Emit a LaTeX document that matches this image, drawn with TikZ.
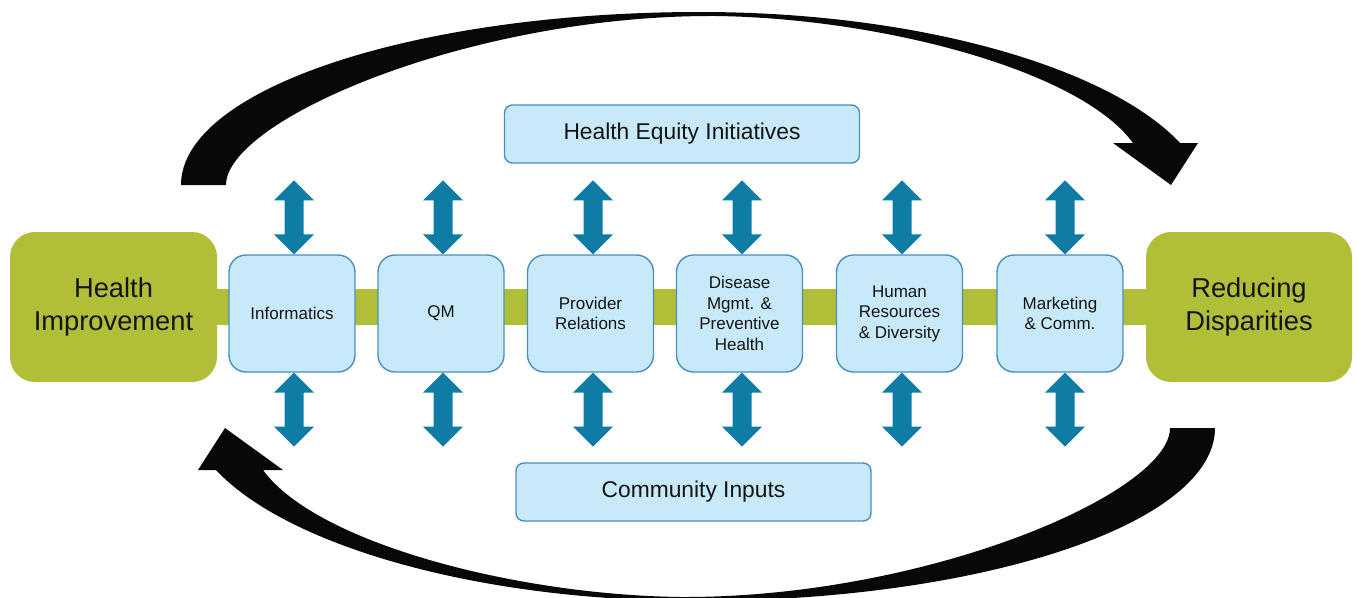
\documentclass[tikz,border=0pt]{standalone}
\usepackage{fontspec}
\setmainfont{Liberation Sans}
\definecolor{hgreen}{HTML}{B1BE37}
\definecolor{lblue}{HTML}{C8EAF8}
\definecolor{bborder}{HTML}{4A8FBA}
\definecolor{ablue}{HTML}{0E7CA5}
\definecolor{txt}{HTML}{141414}
\definecolor{curv}{HTML}{080808}
\begin{document}
\begin{tikzpicture}[x=1pt,y=-1pt,
  bigbox/.style={fill=hgreen, rounded corners=25pt, minimum width=207pt, minimum height=150pt, inner sep=0pt, align=center, text=txt, font=\fontsize{27.3}{33}\selectfont},
  unitbox/.style={fill=lblue, draw=bborder, line width=1.4pt, rounded corners=17pt, minimum width=126pt, minimum height=117pt, inner sep=0pt, align=center, text=txt, font=\fontsize{17}{20.5}\selectfont},
  widebox/.style={fill=lblue, draw=bborder, line width=1.4pt, rounded corners=8pt, minimum width=355pt, minimum height=58pt, inner sep=0pt, text=txt, font=\fontsize{22.8}{26}\selectfont},
  band/.style={draw=hgreen, line width=36pt},
  dblarr/.pic={\fill[ablue] (0,0) -- (-20,-20) -- (-9.5,-20) -- (-9.5,-54) -- (-20,-54) -- (0,-74) -- (20,-54) -- (9.5,-54) -- (9.5,-20) -- (20,-20) -- cycle;}
]
\clip (0,0) rectangle (1357,597);
\fill[white] (0,0) rectangle (1357,597);

% curved arrows
\def\curvedarrow{%
  \fill[curv] (181,185) .. controls (181,89.5) and (413,12) .. (700,12)
    .. controls (920,12) and (1110,68) .. (1180,143)
    -- (1198,143) -- (1171,185) -- (1113,143) -- (1133,143)
    .. controls (1080,70) and (880,18) .. (715,16)
    .. controls (470,15) and (226,120) .. (226,185) -- cycle;}
\curvedarrow
\begin{scope}[rotate around={180:(698,306.5)}]
\curvedarrow
\end{scope}

% end nodes
\node[bigbox] (hi) at (113.5,307) {Health\\Improvement};
\node[bigbox, minimum width=206pt] (rd) at (1249,307) {Reducing\\Disparities};
\draw[band] (hi.east) -- (rd.west);

% unit boxes
\node[unitbox] (inf) at (292,313.5) {Informatics};
\node[unitbox] (qm) at (441,313.5) {QM};
\node[unitbox] (pr) at (590.5,313.5) {Provider\\Relations};
\node[unitbox] (dm) at (739.5,313.5) {Disease\\Mgmt. \&\\Preventive\\Health};
\node[unitbox] (hr) at (899.5,313.5) {Human\\Resources\\\& Diversity};
\node[unitbox] (mk) at (1060,313.5) {Marketing\\\& Comm.};

\node[widebox] (hei) at (682,134) {Health Equity Initiatives};
\node[widebox] (ci) at (693.5,492) {Community Inputs};

% double arrows
\foreach \b/\dx in {inf/2,qm/2,pr/2.5,dm/2.5,hr/2.5,mk/5}{
  \pic at ([xshift=\dx pt]\b.north) {dblarr};
  \pic[yscale=-1] at ([xshift=\dx pt]\b.south) {dblarr};
}
\end{tikzpicture}
\end{document}
